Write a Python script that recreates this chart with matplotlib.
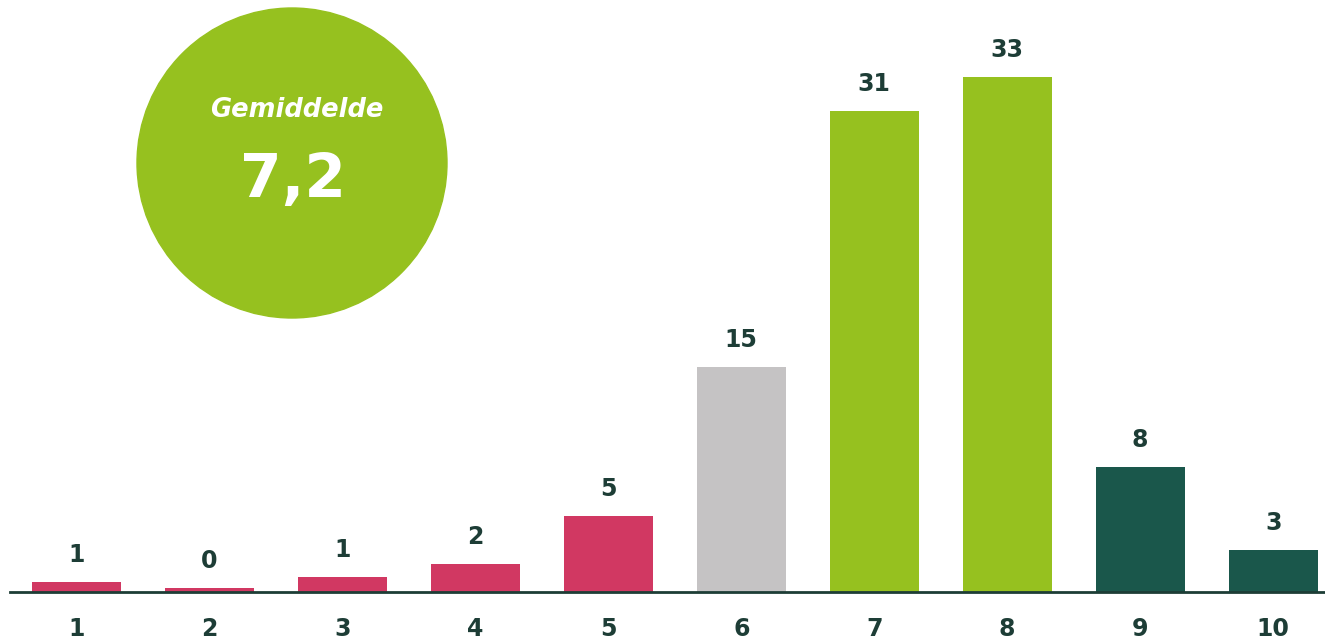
import matplotlib
matplotlib.use("Agg")
import matplotlib.pyplot as plt
from matplotlib.patches import Ellipse

# Data
categories = ["1", "2", "3", "4", "5", "6", "7", "8", "9", "10"]
heights = [0.6, 0.25, 0.95, 1.8, 4.9, 14.6, 31.2, 33.4, 8.1, 2.7]
labels = ["1", "0", "1", "2", "5", "15", "31", "33", "8", "3"]
bar_colors = ["#d13862", "#d13862", "#d13862", "#d13862", "#d13862",
              "#c5c3c4", "#96c11f", "#96c11f", "#1a574b", "#1a574b"]
average_title = "Gemiddelde"
average_value = "7,2"

W, H = 1325, 639
fig = plt.figure(figsize=(W / 100, H / 100), dpi=100)
text_color = "#1d3d36"

base_px = 591.7
ax = fig.add_axes([10 / W, (H - base_px) / H, 1 - 10 / W, base_px / H])
xs = list(range(1, len(categories) + 1))
ax.bar(xs, heights, width=0.67, color=bar_colors, zorder=2)
ax.set_xlim(0.5, 10.39)
ax.set_ylim(0, 38.42)

for x, h, lab in zip(xs, heights, labels):
    ax.annotate(lab, (x, h), xytext=(0, 11), textcoords="offset points",
                ha="center", va="bottom", fontsize=17, fontweight="heavy",
                color=text_color, family="DejaVu Sans")

ax.set_xticks(xs)
ax.set_xticklabels(categories, fontsize=17, fontweight="bold", color=text_color,
                   family="DejaVu Sans")
ax.tick_params(axis="x", length=0, pad=18)
ax.set_yticks([])
for s in ["top", "right", "left"]:
    ax.spines[s].set_visible(False)
ax.spines["bottom"].set_color(text_color)
ax.spines["bottom"].set_linewidth(2)
ax.spines["bottom"].set_zorder(3)

# Average circle
cx, cy, r = 292, 163, 155
circ = Ellipse((cx / W, 1 - cy / H), 2 * r / W, 2 * r / H,
               transform=fig.transFigure, color="#96c11f", zorder=5)
fig.add_artist(circ)
fig.text(297 / W, 1 - 110 / H, average_title, ha="center", va="center",
         fontsize=18.5, fontweight="bold", style="italic", color="white",
         family="DejaVu Sans", zorder=6)
fig.text(293 / W, 1 - 180 / H, average_value, ha="center", va="center",
         fontsize=43, fontweight="bold", color="white",
         family="DejaVu Sans", zorder=6)

fig.savefig("out.png", dpi=100)
